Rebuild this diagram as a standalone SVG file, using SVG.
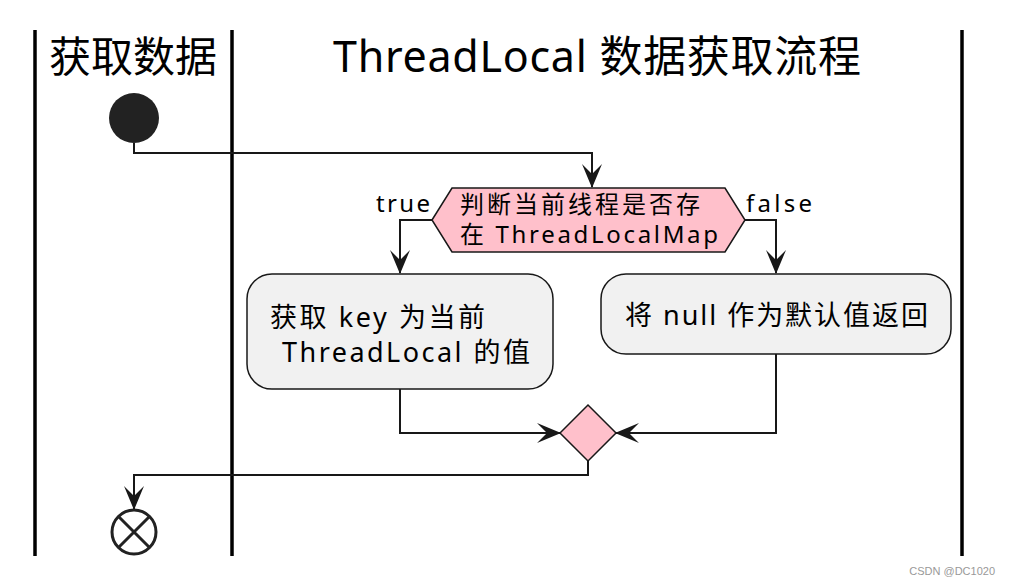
<svg xmlns="http://www.w3.org/2000/svg" width="1010" height="585" viewBox="0 0 1010 585">
<style>
.lane{stroke:#000;stroke-width:3.5}
.c{fill:none;stroke:#181818;stroke-width:2}
.t{font-family:"Noto Sans","Noto Sans CJK SC",sans-serif;fill:#000}
.box{fill:#F1F1F1;stroke:#181818;stroke-width:1.5}
.pink{fill:#FFC0CB;stroke:#181818;stroke-width:1.5}
</style>
<defs>
<marker id="a" viewBox="0 0 24 20" refX="23" refY="10" markerWidth="24" markerHeight="20" markerUnits="userSpaceOnUse" orient="auto">
<path d="M0,0 L24,10 L0,20 L10,10 Z" fill="#181818"/>
</marker>
</defs>
<rect width="1010" height="585" fill="#fff"/>
<g id="lanes">
<line class="lane" x1="35" y1="30" x2="35" y2="556"/>
<line class="lane" x1="232" y1="30" x2="232" y2="556"/>
<line class="lane" x1="962" y1="30" x2="962" y2="556"/>
<text class="t" x="133" y="72" font-size="42" text-anchor="middle">获取数据</text>
<text class="t" x="597" y="72" font-size="43" text-anchor="middle" textLength="528">ThreadLocal 数据获取流程</text>
</g>
<g id="connectors">
<path class="c" d="M134,143 V153 H592 V187" marker-end="url(#a)"/>
<path class="c" d="M432,220 H400 V273" marker-end="url(#a)"/>
<path class="c" d="M745,220 H776 V273" marker-end="url(#a)"/>
<path class="c" d="M400,389 V433 H560" marker-end="url(#a)"/>
<path class="c" d="M776,354 V433 H616" marker-end="url(#a)"/>
<path class="c" d="M588,461 V475 H134 V509" marker-end="url(#a)"/>
<text class="t" x="376" y="212" font-size="24" textLength="54">true</text>
<text class="t" x="746" y="212" font-size="24" textLength="66">false</text>
</g>
<g id="start"><circle cx="134" cy="118" r="25" fill="#222"/></g>
<g id="decision">
<polygon class="pink" points="432,220 452,188 725,188 745,220 725,252 452,252"/>
<text class="t" x="460" y="213" font-size="24" textLength="240">判断当前线程是否存</text>
<text class="t" x="460" y="243" font-size="24" textLength="258">在 ThreadLocalMap</text>
</g>
<g id="getValue">
<rect class="box" x="247" y="274" width="306" height="115" rx="25"/>
<text class="t" x="270" y="327" font-size="27" textLength="215">获取 key 为当前</text>
<text class="t" x="282" y="362" font-size="27" textLength="248">ThreadLocal 的值</text>
</g>
<g id="returnNull">
<rect class="box" x="601" y="274" width="350" height="80" rx="25"/>
<text class="t" x="625" y="325" font-size="27" textLength="303">将 null 作为默认值返回</text>
</g>
<g id="merge"><polygon class="pink" points="560,433 588,405 616,433 588,461"/></g>
<g id="end">
<circle cx="134" cy="532" r="22" fill="#fff" stroke="#222" stroke-width="3"/>
<path d="M119,517 L149,547 M149,517 L119,547" stroke="#222" stroke-width="3"/>
</g>
<text x="995" y="575" font-family="Liberation Sans,sans-serif" font-size="11" fill="#999" text-anchor="end">CSDN @DC1020</text>
</svg>
